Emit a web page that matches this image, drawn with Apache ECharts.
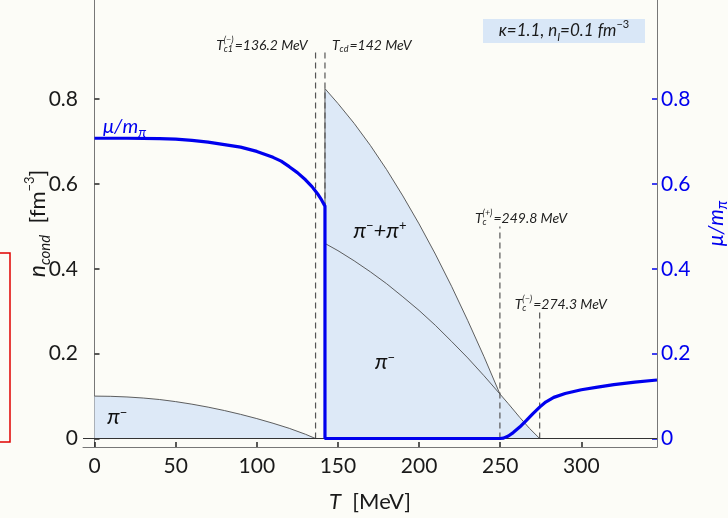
<!DOCTYPE html>
<html>
<head>
<meta charset="utf-8">
<script src="https://cdn.jsdelivr.net/npm/echarts@6/dist/echarts.min.js"></script>
<style>
  html, body { margin: 0; padding: 0; background: #fcfcf7; }
  #chart { width: 728px; height: 518px; }
</style>
</head>
<body>
<div id="chart"></div>
<script>
// Axis ticks
const tTicks = [0, 50, 100, 150, 200, 250, 300];
const nTicks = [0, 0.2, 0.4, 0.6, 0.8];

// pi- condensate density below T_c1 (fm^-3)
const lowT = [0, 10, 20, 30, 40, 50, 60, 70, 80, 90, 100, 110, 120, 130, 136.2];
const lowN = [0.100, 0.0995, 0.098, 0.0955, 0.092, 0.087, 0.081, 0.074, 0.066, 0.057, 0.047, 0.036, 0.024, 0.010, 0];

// total condensate pi- + pi+ above T_cd; beyond T_c(+) only pi- remains
const totT = [142, 150, 160, 170, 180, 190, 200, 210, 220, 230, 240, 249.8, 255, 262, 268, 274.3];
const totN = [0.825, 0.790, 0.743, 0.691, 0.634, 0.572, 0.506, 0.435, 0.359, 0.278, 0.193, 0.105, 0.082, 0.050, 0.024, 0];

// pi- density between T_cd and T_c(+)
const minusT = [142, 150, 160, 170, 180, 190, 200, 210, 220, 230, 240, 249.8];
const minusN = [0.460, 0.443, 0.419, 0.393, 0.365, 0.334, 0.302, 0.267, 0.229, 0.190, 0.148, 0.105];

// chemical potential mu / m_pi
const muT = [0, 20, 40, 50, 60, 70, 80, 90, 100, 110, 115, 120, 125, 130, 134, 138, 140, 142,
             142, 200, 249.8, 252, 255, 258, 262, 266, 270, 274.3, 278, 283, 290, 300, 310, 320, 333, 346.6];
const muV = [0.708, 0.708, 0.707, 0.706, 0.703, 0.699, 0.693, 0.687, 0.677, 0.663, 0.654, 0.641, 0.627, 0.610, 0.594, 0.574, 0.562, 0.548,
             0, 0, 0, 0.001, 0.006, 0.014, 0.027, 0.042, 0.058, 0.074, 0.086, 0.097, 0.106, 0.115, 0.121, 0.127, 0.133, 0.138];

// critical temperatures (MeV), their label parts and marker line heights
const critT = [136.2, 142, 249.8, 274.3];
const critSub = ['c1', 'cd', 'c', 'c'];
const critSup = ['(\u2212)', '', '(+)', '(\u2212)'];
const critTop = [0.91, 0.91, 0.50, 0.30];

const X_MIN = -7.1, X_MAX = 346.6, Y_MIN = -0.02, Y_MAX = 1.034;
const BLUE = '#0000ee';
const FILL = '#dde9f7';
const CURVE = '#4d4d4d';
const FONT = 'Lato, "Open Sans", sans-serif';

const pairs = (xs, ys) => xs.map((x, i) => [x, ys[i]]);

const chart = echarts.init(document.getElementById('chart'), null, { renderer: 'canvas' });

const thinCurve = { color: CURVE, width: 0.9 };

const series = [
  {
    type: 'line', data: pairs(lowT, lowN), showSymbol: false, z: 1,
    lineStyle: thinCurve, areaStyle: { color: FILL, opacity: 1 }
  },
  {
    type: 'line', data: [[totT[0], 0]].concat(pairs(totT, totN)), showSymbol: false, z: 1,
    lineStyle: thinCurve, areaStyle: { color: FILL, opacity: 1 },
    markLine: {
      silent: true, symbol: 'none', label: { show: false },
      lineStyle: { color: '#333', width: 1, type: 'solid' },
      data: [{ yAxis: 0 }]
    }
  },
  {
    type: 'line', data: pairs(minusT, minusN), showSymbol: false, z: 2,
    lineStyle: thinCurve
  }
];

critT.forEach((t, i) => {
  series.push({
    type: 'line', data: [[t, 0], [t, critTop[i]]], showSymbol: false, z: 3,
    lineStyle: { color: '#555', width: 1.2, type: [6, 4] }
  });
});

series.push({
  type: 'line', yAxisIndex: 1, data: pairs(muT, muV), showSymbol: false, z: 5,
  lineStyle: { color: BLUE, width: 3.2 }
});

const labelText = { fontFamily: FONT, fontSize: 21, color: '#1a1a1a' };

chart.setOption({
  backgroundColor: '#fcfcf7',
  animation: false,
  grid: { left: 83, right: 71, top: 0, bottom: 71, containLabel: false, outerBoundsMode: 'none' },
  xAxis: {
    type: 'value', min: X_MIN, max: X_MAX, position: 'bottom',
    axisLine: { onZero: false, lineStyle: { color: '#777', width: 1 } },
    axisTick: { inside: true, length: 5, customValues: tTicks, lineStyle: { color: '#222', width: 1.5 } },
    axisLabel: Object.assign({ customValues: tTicks, margin: 9 }, labelText),
    splitLine: { show: false },
    name: '{i|T}{r|  [MeV]}', nameLocation: 'middle', nameGap: 44, nameMoveOverlap: false,
    nameTextStyle: {
      rich: {
        i: { fontFamily: FONT, fontSize: 22, fontStyle: 'italic', color: '#1a1a1a' },
        r: { fontFamily: FONT, fontSize: 22, color: '#1a1a1a' }
      }
    }
  },
  yAxis: [
    {
      type: 'value', min: Y_MIN, max: Y_MAX, position: 'left',
      axisLine: { show: true, lineStyle: { color: '#777', width: 1 } },
      axisTick: { show: true, inside: true, length: 5, customValues: nTicks, lineStyle: { color: '#222', width: 1.5 } },
      axisLabel: Object.assign({
        customValues: nTicks, margin: 5,
        formatter: v => (v === 0 ? '0' : v.toFixed(1))
      }, labelText),
      splitLine: { show: false },
      name: '{i|n}{sub|cond}{r|  [fm}{sup|\u22123}{r|]}', nameLocation: 'middle', nameGap: 30, nameRotate: 90,
      nameMoveOverlap: false,
      nameTextStyle: {
        rich: {
          i: { fontFamily: FONT, fontSize: 23, fontStyle: 'italic', color: '#1a1a1a', lineHeight: 30 },
          r: { fontFamily: FONT, fontSize: 22, color: '#1a1a1a', lineHeight: 30 },
          sub: { fontFamily: FONT, fontSize: 15, fontStyle: 'italic', color: '#1a1a1a', verticalAlign: 'bottom' },
          sup: { fontFamily: FONT, fontSize: 13, color: '#1a1a1a', verticalAlign: 'top' }
        }
      }
    },
    {
      type: 'value', min: Y_MIN, max: Y_MAX, position: 'right',
      axisLine: { show: true, lineStyle: { color: '#777', width: 1 } },
      axisTick: { show: true, inside: true, length: 5, customValues: nTicks, lineStyle: { color: BLUE, width: 1.5 } },
      axisLabel: Object.assign({}, labelText, {
        customValues: nTicks, margin: 4, color: BLUE,
        formatter: v => (v === 0 ? '0' : v.toFixed(1))
      }),
      splitLine: { show: false },
      name: '{i|\u03bc/m}{sub|\u03c0}', nameLocation: 'middle', nameGap: 45, nameRotate: 90,
      nameMoveOverlap: false,
      nameTextStyle: {
        rich: {
          i: { fontFamily: FONT, fontSize: 21, fontStyle: 'italic', color: BLUE, lineHeight: 28 },
          sub: { fontFamily: FONT, fontSize: 15, fontStyle: 'italic', color: BLUE, verticalAlign: 'bottom' }
        }
      }
    }
  ],
  series: series
});

// ---- annotations placed through the axes' coordinate system ----
const measureCtx = document.createElement('canvas').getContext('2d');
function textWidth(font, s) { measureCtx.font = font; return measureCtx.measureText(s).width; }

const F_MAIN = 'italic 14px ' + FONT;
const F_SMALL = 'italic 9px ' + FONT;
const INK = '#222';

function tempLabel(px, py, sub, sup, rest, alignRight) {
  const wT = textWidth(F_MAIN, 'T');
  const wS = Math.max(textWidth(F_SMALL, sub), sup ? textWidth(F_SMALL, sup) : 0);
  const wR = textWidth(F_MAIN, rest);
  const total = wT + wS + 1 + wR;
  const x0 = alignRight ? px - total : px;
  const out = [
    { type: 'text', x: x0, y: py, style: { text: 'T', font: F_MAIN, fill: INK, verticalAlign: 'middle' } },
    { type: 'text', x: x0 + wT, y: py + 4, style: { text: sub, font: F_SMALL, fill: INK, verticalAlign: 'middle' } },
    { type: 'text', x: x0 + wT + wS + 1, y: py, style: { text: rest, font: F_MAIN, fill: INK, verticalAlign: 'middle' } }
  ];
  if (sup) out.push({ type: 'text', x: x0 + wT, y: py - 5, style: { text: sup, font: F_SMALL, fill: INK, verticalAlign: 'middle' } });
  return out;
}

const toPx = (t, n) => chart.convertToPixel({ gridIndex: 0 }, [t, n]);

const graphics = [];
const placement = [
  { dx: -8, dy: -7, right: true },
  { dx: 7, dy: -7, right: false },
  { dx: -25, dy: -8, right: false },
  { dx: -25, dy: -7, right: false }
];
critT.forEach((t, i) => {
  const p = toPx(t, critTop[i]);
  const pl = placement[i];
  tempLabel(p[0] + pl.dx, p[1] + pl.dy, critSub[i], critSup[i], '=' + t + ' MeV', pl.right)
    .forEach(g => graphics.push(g));
});

const piRich = {
  p: { fontFamily: FONT, fontSize: 22, fontStyle: 'italic', fill: '#111' },
  s: { fontFamily: FONT, fontSize: 13, fill: '#111', verticalAlign: 'top' }
};
function piLabel(t, n, text) {
  const p = toPx(t, n);
  return { type: 'text', x: p[0], y: p[1], z: 10,
    style: { text: text, rich: piRich, align: 'center', verticalAlign: 'middle' } };
}
graphics.push(piLabel(175.9, 0.49, '{p|\u03c0}{s|\u2212}{p|+\u03c0}{s|+}'));
graphics.push(piLabel(179, 0.18, '{p|\u03c0}{s|\u2212}'));
graphics.push(piLabel(14, 0.05, '{p|\u03c0}{s|\u2212}'));

// mu / m_pi tag next to its curve
{
  const p = toPx(5.2, 0.735);
  graphics.push({ type: 'text', x: p[0], y: p[1], z: 10,
    style: {
      text: '{i|\u03bc/m}{sub|\u03c0}', align: 'left', verticalAlign: 'middle',
      rich: {
        i: { fontFamily: FONT, fontSize: 20, fontStyle: 'italic', fill: BLUE, lineHeight: 26 },
        sub: { fontFamily: FONT, fontSize: 14, fontStyle: 'italic', fill: BLUE, verticalAlign: 'bottom' }
      }
    } });
}

// parameter box
graphics.push({
  type: 'group', right: 83, top: 19,
  children: [
    { type: 'rect', shape: { x: 0, y: 0, width: 162, height: 24 }, style: { fill: '#d9e7f7' } },
    { type: 'text', x: 81, y: 12, style: {
      text: '{i|\u03ba=1.1, n}{sub|I}{i|=0.1 fm}{sup|\u22123}', align: 'center', verticalAlign: 'middle',
      rich: {
        i: { fontFamily: FONT, fontSize: 17, fontStyle: 'italic', fill: '#1a1a1a', lineHeight: 24 },
        sub: { fontFamily: FONT, fontSize: 11, fontStyle: 'italic', fill: '#1a1a1a', verticalAlign: 'bottom' },
        sup: { fontFamily: FONT, fontSize: 11, fill: '#1a1a1a', verticalAlign: 'top' }
      }
    } }
  ]
});

// red outline at the left edge
graphics.push({ type: 'rect', shape: { x: -20, y: 253, width: 30, height: 189 },
  style: { fill: 'none', stroke: '#e00000', lineWidth: 1.5 } });

chart.setOption({ graphic: graphics });
</script>
</body>
</html>
